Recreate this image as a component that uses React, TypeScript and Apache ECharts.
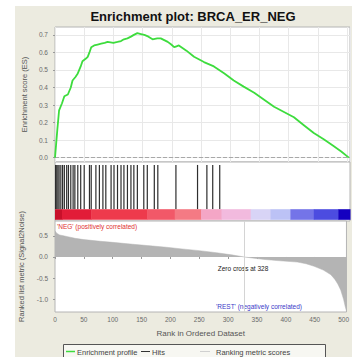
import React, { useEffect, useRef } from "react";
import * as echarts from "echarts";

const TITLE = "Enrichment plot: BRCA_ER_NEG";
const N_GENES = 505;
const X_STEP = 50;
const ZERO_CROSS = 328;
const POS_LABEL = "'NEG' (positively correlated)";
const NEG_LABEL = "'REST' (negatively correlated)";
const ZERO_LABEL = "Zero cross at " + ZERO_CROSS;
const X_NAME = "Rank in Ordered Dataset";
const ES_NAME = "Enrichment score (ES)";
const METRIC_NAME = "Ranked list metric (Signal2Noise)";
const LEGEND_ITEMS = ["Enrichment profile", "Hits", "Ranking metric scores"];

const esTicks = [0, 0.1, 0.2, 0.3, 0.4, 0.5, 0.6, 0.7];
const metricTicks = [-1, -0.5, 0, 0.5];

// running enrichment score [rank, ES]
const esPoints: [number, number][] = [
  [0, 0], [2, 0.08], [4, 0.16], [7, 0.27], [12, 0.31], [16, 0.35], [22, 0.36],
  [27, 0.4], [30, 0.44], [35, 0.46], [39, 0.48], [44, 0.52], [47, 0.55],
  [53, 0.565], [56, 0.575], [59, 0.6], [62, 0.63], [67, 0.64], [73, 0.645],
  [79, 0.65], [85, 0.655], [90, 0.66], [100, 0.655], [107, 0.66], [113, 0.665],
  [118, 0.675], [124, 0.68], [130, 0.69], [135, 0.7], [141, 0.71], [147, 0.705],
  [153, 0.7], [160, 0.69], [167, 0.675], [175, 0.68], [181, 0.68], [187, 0.67],
  [193, 0.66], [199, 0.645], [204, 0.63], [208, 0.635], [212, 0.64], [225, 0.61],
  [238, 0.575], [255, 0.545], [272, 0.52], [290, 0.48], [306, 0.44], [323, 0.405],
  [341, 0.37], [358, 0.33], [375, 0.29], [392, 0.26], [409, 0.23], [426, 0.185],
  [443, 0.14], [460, 0.105], [475, 0.07], [490, 0.035], [503, 0],
];

// ranks of gene-set members
const hitRanks = [
  1, 3, 5, 7, 10, 13, 16, 20, 23, 27, 31, 34, 39, 44, 50, 59, 62, 70, 76, 82, 87,
  96, 101, 107, 113, 118, 124, 130, 135, 141, 152, 158, 170, 176, 207, 244, 260,
  270, 282,
];

// ranked list metric [rank, value]
const metricPoints: [number, number][] = [
  [0, 0.62], [3, 0.56], [8, 0.52], [15, 0.5], [22, 0.48], [35, 0.44], [50, 0.41],
  [79, 0.37], [100, 0.345], [135, 0.3], [160, 0.27], [193, 0.23], [220, 0.19],
  [250, 0.15], [280, 0.1], [306, 0.05], [328, 0], [345, -0.03], [364, -0.06],
  [390, -0.09], [420, -0.12], [435, -0.16], [449, -0.22], [465, -0.31],
  [478, -0.42], [485, -0.53], [490, -0.64], [495, -0.78], [500, -1.0],
  [503, -1.18], [505, -1.27],
];

// colour bar blocks (rank boundaries and colours)
const colorBreaks = [0, 12, 62, 158, 205, 250, 285, 335, 369, 403, 443, 485, 505];
const colorBlocks = [
  "#c8102a", "#e21c38", "#ee3a4c", "#f25868", "#f47a84", "#f4a6c6",
  "#f2bade", "#d8d4f6", "#bcc2f6", "#7474e8", "#4c4ce0", "#1400c0",
];

const FONT = '"Liberation Sans", Arial, sans-serif';

export default function App() {
  const ref = useRef<HTMLDivElement>(null);
  useEffect(() => {
    if (!ref.current) return;
    const chart = echarts.init(ref.current, undefined, { renderer: "svg" });
    const segData = colorBlocks.map((c, i) => [colorBreaks[i], colorBreaks[i + 1], i]);
    const gridBase = { left: 55, right: 2, show: true, borderColor: "#b4b4b4", borderWidth: 1, backgroundColor: "#ffffff" };
    const tickLabel = { fontSize: 6.5, color: "#6a6a6a", fontFamily: FONT };
    const option: any = {
      animation: false,
      backgroundColor: "transparent",
      textStyle: { fontFamily: FONT },
      grid: [
        { ...gridBase, top: 27, height: 135 },
        { ...gridBase, top: 162, height: 59 },
        { ...gridBase, top: 221, height: 91 },
      ],
      xAxis: [0, 1, 2].map((g) => ({
        type: "value",
        gridIndex: g,
        min: 0,
        max: N_GENES,
        interval: X_STEP,
        axisLine: { show: false },
        axisTick: { show: g === 2, length: 2, lineStyle: { color: "#999" } },
        axisLabel: { show: g === 2, ...tickLabel, margin: 4, showMaxLabel: false, formatter: (v: number) => String(v) },
        splitLine: { show: g === 0, lineStyle: { color: "#e8e8e8", width: 1 } },
        name: g === 2 ? X_NAME : "",
        nameLocation: "middle",
        nameGap: 17,
        nameTextStyle: { fontSize: 8, color: "#555", fontFamily: FONT },
      })),
      yAxis: [
        {
          type: "value", gridIndex: 0, min: -0.025, max: 0.745,
          axisLine: { show: false },
          axisTick: { show: true, length: 2, customValues: esTicks, lineStyle: { color: "#999" } },
          axisLabel: { ...tickLabel, margin: 7, customValues: esTicks, formatter: (v: number) => v.toFixed(1) },
          splitLine: { show: true, lineStyle: { color: "#e8e8e8" } },
          name: ES_NAME, nameLocation: "middle", nameGap: 19, nameRotate: 90,
          nameTextStyle: { fontSize: 7.5, color: "#555", fontFamily: FONT },
        },
        { type: "value", gridIndex: 1, min: 0, max: 1, show: false },
        {
          type: "value", gridIndex: 2, min: -1.3, max: 0.85,
          axisLine: { show: false },
          axisTick: { show: true, length: 2, customValues: metricTicks, lineStyle: { color: "#999" } },
          axisLabel: { ...tickLabel, margin: 7, customValues: metricTicks, formatter: (v: number) => v.toFixed(1) },
          splitLine: { show: false },
          name: METRIC_NAME, nameLocation: "middle", nameGap: 19, nameRotate: 90,
          nameTextStyle: { fontSize: 7.5, color: "#555", fontFamily: FONT },
        },
      ],
      series: [
        {
          type: "line", name: LEGEND_ITEMS[0], xAxisIndex: 0, yAxisIndex: 0,
          data: esPoints, showSymbol: false, symbol: "none",
          lineStyle: { color: "#3ddc3d", width: 1.8 },
          markLine: {
            silent: true, symbol: "none", label: { show: false },
            lineStyle: { color: "#a8a8a8", type: "dashed", width: 1 },
            data: [{ yAxis: 0 }],
          },
          z: 5,
        },
        {
          type: "custom", name: LEGEND_ITEMS[1], xAxisIndex: 1, yAxisIndex: 1,
          data: hitRanks.map((r) => [r]),
          renderItem: (params: any, api: any) => {
            const x = api.value(0);
            const p1 = api.coord([x, 0.95]);
            const p2 = api.coord([x, 0.2]);
            return { type: "line", shape: { x1: p1[0], y1: p1[1], x2: p2[0], y2: p2[1] }, style: { stroke: "#2e2e2e", lineWidth: 1.2 } };
          },
        },
        {
          type: "custom", name: "colour bar", xAxisIndex: 1, yAxisIndex: 1,
          data: segData,
          renderItem: (params: any, api: any) => {
            const a = api.coord([api.value(0), 0.2]);
            const b = api.coord([api.value(1), 0.02]);
            return { type: "rect", shape: { x: a[0], y: a[1], width: b[0] - a[0] + 0.5, height: b[1] - a[1] }, style: { fill: colorBlocks[api.value(2)] } };
          },
        },
        {
          type: "line", name: LEGEND_ITEMS[2], xAxisIndex: 2, yAxisIndex: 2,
          data: metricPoints, showSymbol: false, symbol: "none",
          lineStyle: { color: "#b4b4b4", width: 0.5 },
          areaStyle: { color: "#b4b4b4", opacity: 1 },
          markLine: {
            silent: true, symbol: "none", label: { show: false },
            lineStyle: { color: "#d4d4d4", type: "solid", width: 1 },
            data: [{ xAxis: ZERO_CROSS }],
          },
        },
      ],
      graphic: [
        { type: "text", x: 193, y: 16, style: { text: TITLE, font: `bold 13px ${FONT}`, fill: "#111", align: "center", verticalAlign: "middle", textAlign: "center", textVerticalAlign: "middle" } },
        { type: "text", x: 57, y: 226, style: { text: POS_LABEL, font: `6.5px ${FONT}`, fill: "#e03030", verticalAlign: "middle", textVerticalAlign: "middle" } },
        { type: "text", x: 243, y: 268, style: { text: ZERO_LABEL, font: `6.5px ${FONT}`, fill: "#222", align: "center", verticalAlign: "middle", textAlign: "center", textVerticalAlign: "middle" } },
        { type: "text", x: 259, y: 306, style: { text: NEG_LABEL, font: `6.5px ${FONT}`, fill: "#3a3ac8", align: "center", verticalAlign: "middle", textAlign: "center", textVerticalAlign: "middle" } },
        { type: "rect", shape: { x: 63.5, y: 344.5, width: 262, height: 20 }, style: { fill: "#f7f7f2", stroke: "#555", lineWidth: 1 } },
        { type: "line", shape: { x1: 66, y1: 351.5, x2: 75, y2: 351.5 }, style: { stroke: "#3ddc3d", lineWidth: 1.5 } },
        { type: "text", x: 77, y: 352, style: { text: LEGEND_ITEMS[0], font: `7.5px ${FONT}`, fill: "#444", verticalAlign: "middle", textVerticalAlign: "middle" } },
        { type: "line", shape: { x1: 141, y1: 351.5, x2: 150, y2: 351.5 }, style: { stroke: "#333", lineWidth: 1 } },
        { type: "text", x: 152, y: 352, style: { text: LEGEND_ITEMS[1], font: `7.5px ${FONT}`, fill: "#444", verticalAlign: "middle", textVerticalAlign: "middle" } },
        { type: "line", shape: { x1: 200, y1: 351.5, x2: 210, y2: 351.5 }, style: { stroke: "#d0d0d0", lineWidth: 1 } },
        { type: "text", x: 216, y: 352, style: { text: LEGEND_ITEMS[2], font: `7.5px ${FONT}`, fill: "#444", verticalAlign: "middle", textVerticalAlign: "middle" } },
      ],
    };
    chart.setOption(option);
    return () => chart.dispose();
  }, []);
  return (
    <div style={{ position: "fixed", left: 0, top: 0, width: 352, height: 357, background: "#ffffff", overflow: "hidden" }}>
      <div style={{ position: "absolute", left: 15, top: 6, right: 0, bottom: 0, background: "#ecebe0" }} />
      <div ref={ref} style={{ position: "absolute", left: 0, top: 0, width: 352, height: 357 }} />
    </div>
  );
}
